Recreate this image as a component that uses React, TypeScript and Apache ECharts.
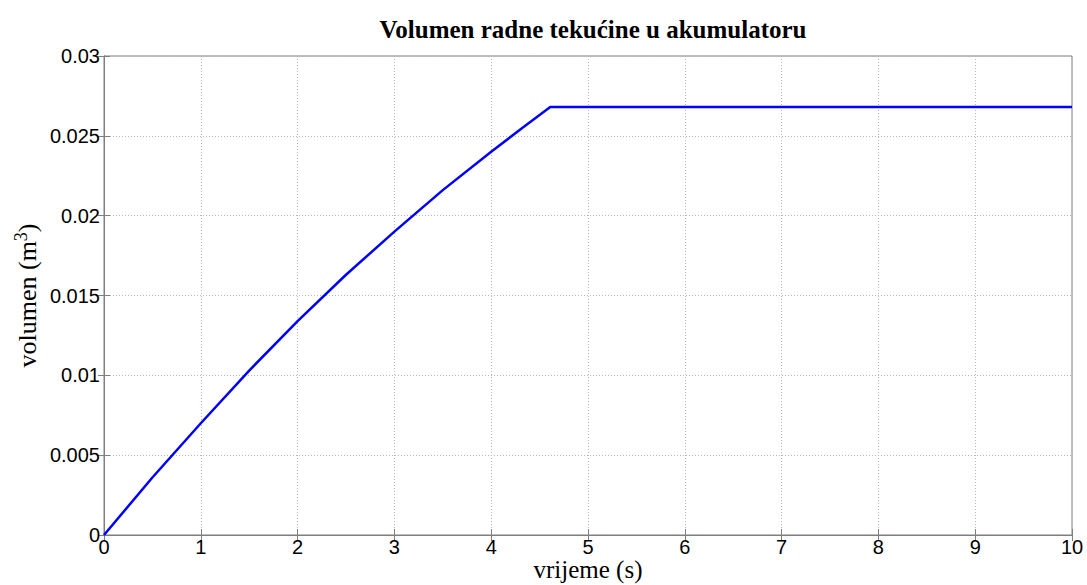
import React, { useEffect, useRef } from "react";
import * as echarts from "echarts";

const timeS = [0, 0.5, 1, 1.5, 2, 2.5, 3, 3.5, 4, 4.3, 4.61, 5, 6, 7, 8, 9, 10];
const volumeM3 = [0, 0.0036, 0.0070, 0.0103, 0.0134, 0.0163, 0.0190, 0.0216, 0.0240, 0.0254, 0.0268, 0.0268, 0.0268, 0.0268, 0.0268, 0.0268, 0.0268];
const xTicks = [0, 1, 2, 3, 4, 5, 6, 7, 8, 9, 10];
const yTicks = [0, 0.005, 0.01, 0.015, 0.02, 0.025, 0.03];

export default function App() {
  const ref = useRef<HTMLDivElement>(null);
  useEffect(() => {
    if (!ref.current) return;
    const chart = echarts.init(ref.current, undefined, { renderer: "svg" });
    const axisColor = "#7f7f7f";
    const tickLabelStyle = { color: "#000", fontFamily: "Liberation Sans", fontSize: 20 };
    const split = { show: true, lineStyle: { color: "#b8b8b8", type: [1, 2] as any, width: 1 } };
    chart.setOption({
      animation: false,
      backgroundColor: "#fff",
      title: {
        text: "Volumen radne tekućine u akumulatoru",
        left: 588,
        textAlign: "center",
        top: 12,
        textStyle: { fontFamily: "Liberation Serif", fontWeight: "bold", fontSize: 25, color: "#000" },
      },
      grid: {
        left: 104,
        right: 15,
        top: 56,
        bottom: 50,
        show: true,
        borderColor: axisColor,
        borderWidth: 1,
        containLabel: false,
        outerBoundsMode: "none",
      },
      xAxis: [
        {
          type: "value",
          min: 0,
          max: 10,
          interval: 1,
          position: "bottom",
          name: "vrijeme (s)",
          nameLocation: "middle",
          nameGap: 22,
          nameMoveOverlap: false,
          nameTextStyle: { fontFamily: "Liberation Serif", fontSize: 25, lineHeight: 25, color: "#000", verticalAlign: "top" },
          axisLine: { show: true, lineStyle: { color: axisColor } },
          axisTick: { show: true, inside: true, length: 6, lineStyle: { color: axisColor } },
          axisLabel: { ...tickLabelStyle, margin: 2, formatter: (v: number) => (xTicks.includes(v) ? String(v) : "") },
          splitLine: split,
        },
        {
          type: "value",
          min: 0,
          max: 10,
          interval: 1,
          position: "top",
          axisLine: { show: true, lineStyle: { color: axisColor } },
          axisTick: { show: true, inside: true, length: 6, lineStyle: { color: axisColor } },
          axisLabel: { show: false },
          splitLine: { show: false },
        },
      ],
      yAxis: [
        {
          type: "value",
          min: 0,
          max: 0.03,
          interval: 0.005,
          position: "left",
          name: "volumen (m{sup|3})",
          nameLocation: "middle",
          nameGap: 62,
          nameRotate: 90,
          nameMoveOverlap: false,
          nameTextStyle: {
            fontFamily: "Liberation Serif",
            fontSize: 26,
            color: "#000",
            rich: { sup: { fontFamily: "Liberation Serif", fontSize: 18, verticalAlign: "top", padding: [0, 0, 12, 0], color: "#000" } },
          },
          axisLine: { show: true, lineStyle: { color: axisColor } },
          axisTick: { show: true, inside: true, length: 6, lineStyle: { color: axisColor } },
          axisLabel: {
            ...tickLabelStyle,
            margin: 4,
            formatter: (v: number) => {
              const t = yTicks.find((y) => Math.abs(y - v) < 1e-9);
              return t === undefined ? "" : String(parseFloat(t.toFixed(3)));
            },
          },
          splitLine: split,
        },
        {
          type: "value",
          min: 0,
          max: 0.03,
          interval: 0.005,
          position: "right",
          axisLine: { show: true, lineStyle: { color: axisColor } },
          axisTick: { show: true, inside: true, length: 6, lineStyle: { color: axisColor } },
          axisLabel: { show: false },
          splitLine: { show: false },
        },
      ],
      series: [
        {
          type: "line",
          data: timeS.map((t, i) => [t, volumeM3[i]]),
          smooth: false,
          showSymbol: false,
          symbol: "none",
          lineStyle: { color: "#0000ff", width: 2.5 },
          xAxisIndex: 0,
          yAxisIndex: 0,
        },
      ],
    });
    return () => chart.dispose();
  }, []);
  return <div ref={ref} style={{ width: 1087, height: 585, position: "absolute", left: 0, top: 0 }} />;
}
